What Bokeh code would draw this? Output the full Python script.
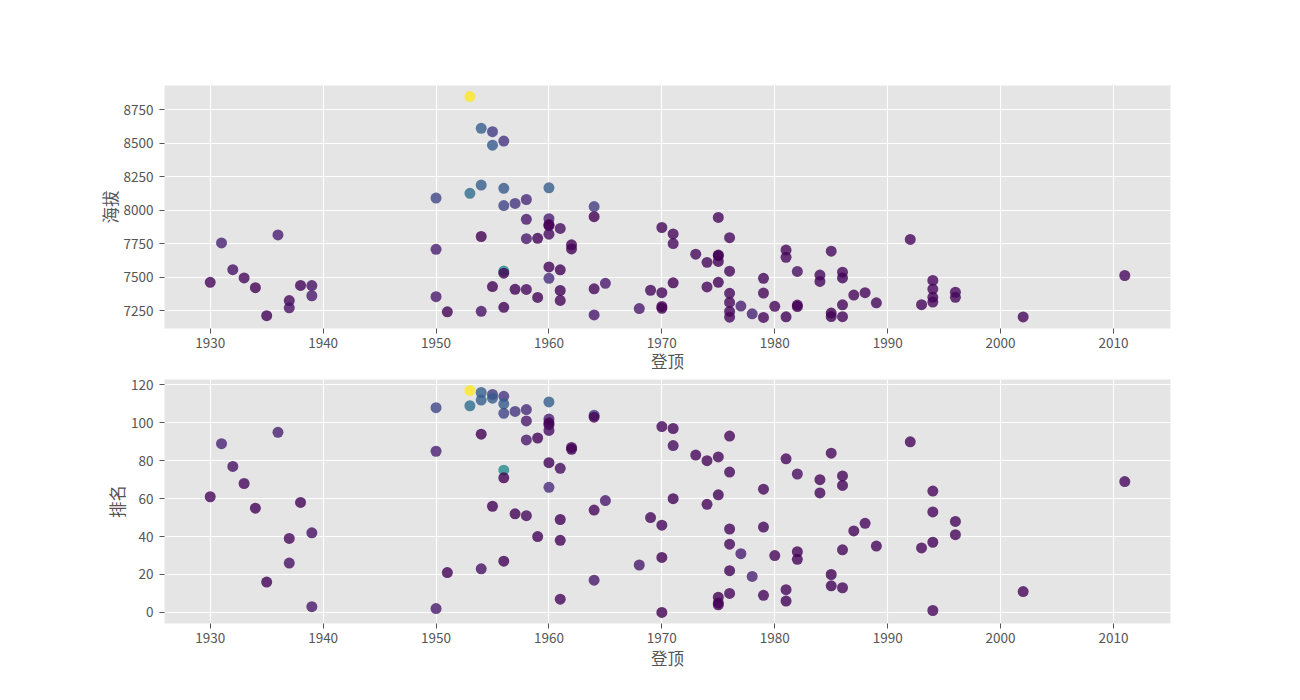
from bokeh.plotting import figure
from bokeh.models import ColumnDataSource, FixedTicker, Range1d
from bokeh.transform import linear_cmap
from bokeh.palettes import Viridis256
from bokeh.layouts import column
from bokeh.embed import file_html
from bokeh.resources import INLINE

# 登顶年份
years = [1930, 1931, 1932, 1933, 1934, 1935, 1936, 1937, 1937, 1938, 1939, 1939,
         1950, 1950, 1950, 1951, 1953, 1953, 1954, 1954, 1954, 1954, 1955, 1955, 1955,
         1956, 1956, 1956, 1956, 1956, 1956, 1957, 1957, 1958, 1958, 1958, 1958,
         1959, 1959, 1960, 1960, 1960, 1960, 1960, 1960, 1960, 1961, 1961, 1961, 1961,
         1962, 1962, 1964, 1964, 1964, 1964, 1965,
         1968, 1969, 1970, 1970, 1970, 1970, 1971, 1971, 1971, 1973, 1974, 1974,
         1975, 1975, 1975, 1975, 1975, 1976, 1976, 1976, 1976, 1976, 1976,
         1977, 1978, 1979, 1979, 1979, 1980, 1981, 1981, 1981, 1982, 1982, 1982,
         1984, 1984, 1985, 1985, 1985, 1986, 1986, 1986, 1986, 1987, 1988, 1989,
         1992, 1993, 1994, 1994, 1994, 1994, 1996, 1996, 2002, 2011]
# 海拔 (m)
heights = [7462, 7756, 7556, 7495, 7422, 7213, 7816, 7326, 7272, 7439, 7438, 7362,
           8091, 7708, 7355, 7242, 8848, 8126, 8611, 8188, 7804, 7246, 8586, 8485, 7430,
           8516, 8163, 8035, 7546, 7530, 7276, 8051, 7410, 8080, 7932, 7788, 7409,
           7790, 7349, 8167, 7937, 7893, 7885, 7821, 7577, 7492, 7864, 7555, 7401, 7327,
           7742, 7711, 8027, 7952, 7414, 7219, 7455,
           7266, 7403, 7871, 7385, 7282, 7268, 7823, 7751, 7458, 7672, 7611, 7428,
           7946, 7665, 7661, 7618, 7462, 7795, 7545, 7380, 7312, 7245, 7202,
           7285, 7227, 7492, 7382, 7200, 7283, 7703, 7649, 7205, 7543, 7292, 7281,
           7516, 7469, 7694, 7233, 7207, 7538, 7495, 7294, 7206, 7367, 7385, 7309,
           7782, 7295, 7476, 7412, 7350, 7315, 7388, 7350, 7204, 7513]
# 排名
ranks = [61, 89, 77, 68, 55, 16, 95, 39, 26, 58, 42, 3,
         108, 85, 2, 21, 117, 109, 116, 112, 94, 23, 115, 113, 56,
         114, 110, 105, 75, 71, 27, 106, 52, 107, 101, 91, 51,
         92, 40, 111, 102, 100, 99, 96, 79, 66, 76, 49, 38, 7,
         87, 86, 104, 103, 54, 17, 59,
         25, 50, 98, 46, 29, 0, 97, 88, 60, 83, 80, 57,
         82, 62, 8, 5, 4, 93, 74, 44, 36, 22, 10,
         31, 19, 65, 45, 9, 30, 81, 12, 6, 73, 32, 28,
         70, 63, 84, 20, 14, 72, 67, 33, 13, 43, 47, 35,
         90, 34, 64, 53, 37, 1, 48, 41, 11, 69]
# 颜色数值 (估计)
color_vals = [4, 14, 8, 5, 3, 3, 12, 5, 8, 3, 8, 10,
              27, 12, 10, 3, 121, 45, 38, 38, 2, 8, 22, 36, 3,
              20, 36, 26, 58, 2, 3, 20, 3, 16, 10, 10, 5,
              3, 3, 37, 12, 3, 2, 6, 3, 17, 6, 3, 3, 4,
              2, 3, 24, 2, 4, 10, 10,
              10, 4, 4, 4, 2, 2, 4, 6, 3, 5, 4, 4,
              4, 3, 2, 2, 3, 5, 4, 4, 4, 3, 4,
              12, 14, 4, 4, 4, 4, 4, 4, 3, 7, 3, 3,
              4, 4, 5, 2, 3, 4, 3, 4, 4, 4, 4, 4,
              4, 4, 4, 4, 3, 4, 4, 4, 4, 5]

x_ticks = [1930, 1940, 1950, 1960, 1970, 1980, 1990, 2000, 2010]
h_ticks = [7250, 7500, 7750, 8000, 8250, 8500, 8750]
r_ticks = [0, 20, 40, 60, 80, 100, 120]

src = ColumnDataSource(dict(year=years, height=heights, rank=ranks, cval=color_vals))
cmap = linear_cmap("cval", Viridis256, min(color_vals), max(color_vals))

FONT = "Noto Sans CJK SC"
GREY = "#555555"


def pad(lo, hi, f=0.05):
    d = (hi - lo) * f
    return lo - d, hi + d


xlo, xhi = pad(min(years), max(years))


def make(ycol, ylabel, yticks, top, bottom, fh, xlab_standoff):
    ylo, yhi = pad(min(src.data[ycol]), max(src.data[ycol]))
    p = figure(frame_width=1006, frame_height=fh,
               min_border_left=164, min_border_right=10,
               min_border_top=top, min_border_bottom=bottom,
               x_range=Range1d(xlo, xhi), y_range=Range1d(ylo, yhi),
               output_backend="svg", toolbar_location=None)
    p.background_fill_color = "#E5E5E5"
    p.border_fill_color = "white"
    p.outline_line_color = None
    p.grid.grid_line_color = "white"
    p.grid.grid_line_width = 1.1
    p.xaxis.ticker = FixedTicker(ticks=x_ticks)
    p.yaxis.ticker = FixedTicker(ticks=yticks)
    for ax in (p.xaxis[0], p.yaxis[0]):
        ax.axis_line_color = None
        ax.major_tick_line_color = GREY
        ax.major_tick_out = 5
        ax.major_tick_in = 0
        ax.minor_tick_line_color = None
        ax.major_label_text_color = GREY
        ax.major_label_text_font = FONT
        ax.major_label_text_font_size = "13.5px"
        ax.axis_label_text_font = FONT
        ax.axis_label_text_font_style = "normal"
        ax.axis_label_text_color = GREY
        ax.axis_label_text_font_size = "16.5px"
    p.xaxis.axis_label = "登顶"
    p.yaxis.axis_label = ylabel
    p.xaxis.major_label_standoff = 4
    p.xaxis.axis_label_standoff = xlab_standoff
    p.yaxis.major_label_standoff = 6
    p.yaxis.axis_label_standoff = -1
    p.scatter(x="year", y=ycol, source=src, size=11, marker="circle",
              fill_color=cmap, fill_alpha=0.8, line_color=None)
    return p


p1 = make("height", "海拔", h_ticks, 85, 45, 243, -2)
p2 = make("rank", "排名", r_ticks, 4, 50, 244, 0)

layout = column(p1, p2)
open("out.html", "w").write(file_html(layout, INLINE))
